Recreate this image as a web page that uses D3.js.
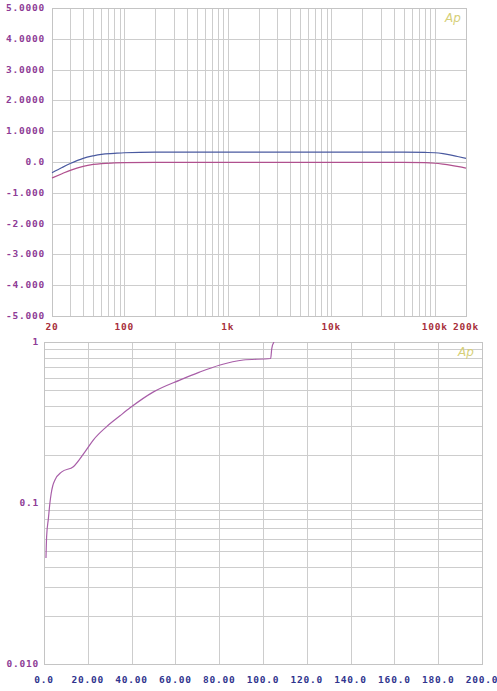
<!DOCTYPE html>
<html><head><meta charset="utf-8">
<script src="https://cdn.jsdelivr.net/npm/d3@7"></script>
<style>
body{margin:0;background:#fff;}
svg{display:block;}
.lbl{font-family:"DejaVu Sans Mono",monospace;font-weight:bold;font-size:9.5px;letter-spacing:0.8px;}
</style></head>
<body>
<script>
// ---- Top chart: frequency response ----
const freqTicks = [20, 100, 1000, 10000, 100000, 200000];
const freqLabels = ["20", "100", "1k", "10k", "100k", "200k"];
const dbTicks = [5, 4, 3, 2, 1, 0, -1, -2, -3, -4, -5];
const dbLabels = ["5.0000", "4.0000", "3.0000", "2.0000", "1.0000", "0.0", "-1.000", "-2.000", "-3.000", "-4.000", "-5.000"];

const blueFreq = [20, 25, 30, 40, 50, 60, 80, 100, 200, 1000, 10000, 50000, 80000, 100000, 120000, 140000, 170000, 200000];
const blueDb   = [-0.35, -0.18, -0.05, 0.12, 0.2, 0.25, 0.28, 0.3, 0.32, 0.32, 0.32, 0.32, 0.31, 0.3, 0.27, 0.23, 0.17, 0.12];
const purpleFreq = [20, 25, 30, 40, 50, 60, 80, 100, 200, 1000, 10000, 50000, 80000, 100000, 120000, 140000, 170000, 200000];
const purpleDb   = [-0.52, -0.38, -0.27, -0.14, -0.08, -0.05, -0.03, -0.02, -0.01, -0.01, -0.01, -0.01, -0.02, -0.04, -0.07, -0.1, -0.15, -0.2];

// ---- Bottom chart: THD+N vs power ----
const powerTicks = [0, 20, 40, 60, 80, 100, 120, 140, 160, 180, 200];
const powerLabels = ["0.0", "20.00", "40.00", "60.00", "80.00", "100.0", "120.0", "140.0", "160.0", "180.0", "200.0"];
const thdTicks = [1, 0.1, 0.01];
const thdLabels = ["1", "0.1", "0.010"];

const power = [0.9, 1.2, 2.0, 2.7, 3.3, 4.0, 5.0, 8.1, 13.4, 18.7, 22.5, 28.6, 34.7, 39.3, 50, 62, 71, 80.4, 91, 103.5, 104, 105];
const thd   = [0.0455, 0.062, 0.08, 0.1, 0.115, 0.128, 0.139, 0.156, 0.168, 0.208, 0.246, 0.298, 0.348, 0.39, 0.49, 0.58, 0.65, 0.72, 0.773, 0.79, 0.91, 1.0];

const W = 497, H = 691;
const svg = d3.select("body").append("svg").attr("width", W).attr("height", H);

const gridColor = "#cdcdcd";

// ===== Top chart =====
const T = {l: 52, r: 466, t: 8, b: 316};
const xT = d3.scaleLog().domain([20, 200000]).range([T.l, T.r]);
const yT = d3.scaleLinear().domain([-5, 5]).range([T.b, T.t]);

const gT = svg.append("g");
const minorF = [];
for (let d = 10; d <= 100000; d *= 10) for (let m = 1; m <= 9; m++) { const f = d * m; if (f >= 20 && f <= 200000) minorF.push(f); }
gT.selectAll("line.vx").data(minorF).join("line")
  .attr("x1", d => Math.round(xT(d)) + 0.5).attr("x2", d => Math.round(xT(d)) + 0.5)
  .attr("y1", T.t).attr("y2", T.b).attr("stroke", gridColor).attr("stroke-width", 1);
gT.selectAll("line.hy").data(dbTicks).join("line")
  .attr("y1", d => Math.round(yT(d)) + 0.5).attr("y2", d => Math.round(yT(d)) + 0.5)
  .attr("x1", T.l).attr("x2", T.r).attr("stroke", gridColor).attr("stroke-width", 1);
gT.append("rect").attr("x", T.l + 0.5).attr("y", T.t + 0.5).attr("width", T.r - T.l).attr("height", T.b - T.t)
  .attr("fill", "none").attr("stroke", "#c4c4c4");

gT.selectAll("text.yl").data(dbTicks).join("text").attr("class", "lbl")
  .attr("x", 45).attr("y", d => yT(d) + 3).attr("text-anchor", "end").attr("fill", "#8e3c96")
  .text((d, i) => dbLabels[i]);
gT.selectAll("text.xl").data(freqTicks).join("text").attr("class", "lbl")
  .attr("x", d => xT(d)).attr("y", 330).attr("text-anchor", "middle").attr("fill", "#a8303c")
  .text((d, i) => freqLabels[i]);

const lineT = d3.line().x(d => xT(d[0])).y(d => yT(d[1])).curve(d3.curveMonotoneX);
gT.append("path").attr("d", lineT(d3.zip(blueFreq, blueDb))).attr("fill", "none").attr("stroke", "#4a5aa0").attr("stroke-width", 1.2);
gT.append("path").attr("d", lineT(d3.zip(purpleFreq, purpleDb))).attr("fill", "none").attr("stroke", "#b0508e").attr("stroke-width", 1.2);

gT.append("text").attr("x", 453).attr("y", 22).attr("text-anchor", "middle")
  .attr("font-family", "DejaVu Sans, sans-serif").attr("font-style", "italic").attr("font-size", 12)
  .attr("fill", "#d6cf78").text("Ap");

// ===== Bottom chart =====
const B = {l: 44, r: 482, t: 342, b: 664};
const xB = d3.scaleLinear().domain([0, 200]).range([B.l, B.r]);
const yB = d3.scaleLog().domain([0.01, 1]).range([B.b, B.t]);

const gB = svg.append("g");
const minorT = [];
for (let d = 0.01; d < 1; d *= 10) for (let m = 1; m <= 9; m++) minorT.push(d * m);
minorT.push(1);
gB.selectAll("line.hy").data(minorT).join("line")
  .attr("y1", d => Math.round(yB(d)) + 0.5).attr("y2", d => Math.round(yB(d)) + 0.5)
  .attr("x1", B.l).attr("x2", B.r).attr("stroke", gridColor).attr("stroke-width", 1);
gB.selectAll("line.vx").data(powerTicks).join("line")
  .attr("x1", d => Math.round(xB(d)) + 0.5).attr("x2", d => Math.round(xB(d)) + 0.5)
  .attr("y1", B.t).attr("y2", B.b).attr("stroke", gridColor).attr("stroke-width", 1);
gB.append("rect").attr("x", B.l + 0.5).attr("y", B.t + 0.5).attr("width", B.r - B.l).attr("height", B.b - B.t)
  .attr("fill", "none").attr("stroke", "#c4c4c4");

gB.selectAll("text.yl").data(thdTicks).join("text").attr("class", "lbl")
  .attr("x", 39).attr("y", d => yB(d) + 3).attr("text-anchor", "end").attr("fill", "#8e3c96")
  .text((d, i) => thdLabels[i]);
gB.selectAll("text.xl").data(powerTicks).join("text").attr("class", "lbl")
  .attr("x", d => xB(d)).attr("y", 683).attr("text-anchor", "middle").attr("fill", "#30348e")
  .text((d, i) => powerLabels[i]);

svg.append("clipPath").attr("id", "clipB").append("rect")
  .attr("x", B.l).attr("y", B.t).attr("width", B.r - B.l).attr("height", B.b - B.t);
const lineB = d3.line().x(d => xB(d[0])).y(d => yB(d[1])).curve(d3.curveMonotoneX);
gB.append("path").attr("d", lineB(d3.zip(power, thd))).attr("clip-path", "url(#clipB)")
  .attr("fill", "none").attr("stroke", "#a85ea8").attr("stroke-width", 1.2);

gB.append("text").attr("x", 466).attr("y", 356).attr("text-anchor", "middle")
  .attr("font-family", "DejaVu Sans, sans-serif").attr("font-style", "italic").attr("font-size", 12)
  .attr("fill", "#d6cf78").text("Ap");
</script>
</body></html>
